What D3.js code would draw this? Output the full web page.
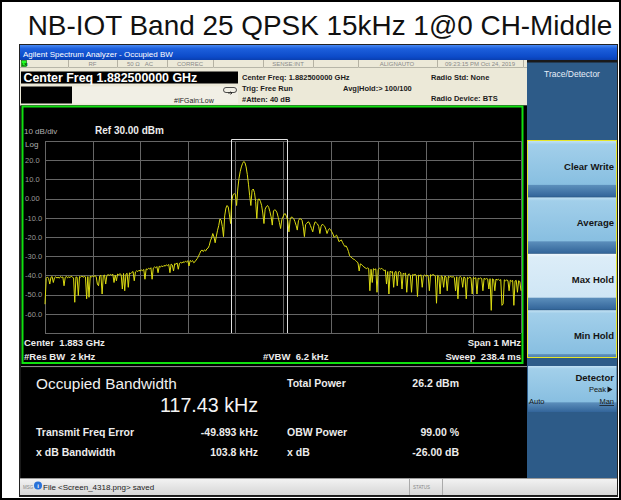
<!DOCTYPE html>
<html>
<head>
<meta charset="utf-8">
<script src="https://cdn.jsdelivr.net/npm/d3@7"></script>
<style>
  body { margin: 0; background: #fff; }
  svg { display: block; font-family: "Liberation Sans", Arial, sans-serif; }
  svg text { white-space: pre; }
</style>
</head>
<body>
<script>
'use strict';

// ---- Data ----
const chartTitle = 'NB-IOT Band 25 QPSK 15kHz 1@0 CH-Middle';
const windowTitle = 'Agilent Spectrum Analyzer - Occupied BW';
const centerFreqText = 'Center Freq 1.882500000 GHz';

const startKHz = -500;      // span 1 MHz around center
const stopKHz = 500;
const stepKHz = 2.5;        // 401 sweep points
const refLevel = 30;        // dBm
const dbPerDiv = 10;
const yTickLabels = ['20.0', '10.0', '0.00', '-10.0', '-20.0', '-30.0', '-40.0', '-50.0', '-60.0'];

// Max-hold trace, dBm per sweep point
const traceDbm = [
  -55, -41.5, -40.8, -41.6, -44.5, -41.0, -40.6, -43.7, -41.2, -40.7, -41.4, -40.9, -41.5, -40.6, -41.1, -40.8, -45.4, -41.0, -40.5, -41.3,
  -40.7, -41.2, -40.4, -40.9, -41.3, -54.0, -40.8, -41.0, -50.5, -40.6, -40.9, -40.3, -41.0, -40.5, -40.8, -52.2, -40.6, -51.4, -40.4, -40.9,
  -40.2, -40.7, -40.1, -40.6, -44.5, -45.4, -40.3, -39.9, -49.7, -40.2, -39.8, -44.5, -40.1, -39.6, -40.0, -39.5, -39.9, -39.4, -43.7, -39.8,
  -42.8, -39.3, -39.7, -39.1, -39.6, -47.1, -39.0, -48.0, -39.4, -38.9, -46.2, -38.7, -39.1, -38.4, -38.0, -42.8, -38.2, -37.6, -38.0, -37.3,
  -37.8, -37.1, -37.5, -36.9, -42.0, -36.6, -37.0, -36.3, -36.7, -36.0, -42.0, -36.2, -35.6, -36.1, -35.4, -38.6, -35.2, -35.7, -35.0, -35.5,
  -34.8, -35.2, -34.5, -34.9, -34.3, -38.6, -34.1, -34.6, -37.7, -33.9, -34.2, -33.5, -36.8, -33.7, -33.2, -33.6, -32.9, -33.3, -32.6, -33.0,
  -32.4, -35.1, -32.2, -32.8, -32.3, -33.4, -32.9, -32.0, -31.2, -30.0, -28.6, -27.2, -26.8, -27.6, -26.7, -27.3, -26.2, -25.8, -24.5, -22.0,
  -20.5, -18.2, -20.0, -23.0, -19.5, -16.5, -14.0, -10.6, -11.2, -14.5, -19.8, -9.0, -5.0, -3.6, -4.4, -8.5, -13.0, -1.0, 2.0, 2.6,
  2.2, -3.6, 5.0, 10.5, 14.0, 16.5, 18.3, 19.3, 18.8, 16.5, 12.6, 7.5, 1.5, -3.6, 4.3, 5.0, 3.2, -1.5, -10.4, -0.5,
  -0.2, -1.4, -3.5, -7.5, -13.0, -5.5, -4.2, -3.6, -4.6, -6.8, -9.5, -13.8, -6.5, -5.8, -6.2, -7.4, -9.8, -12.5, -15.6, -11.0,
  -9.6, -8.0, -7.9, -9.5, -11.5, -17.3, -11.0, -9.6, -9.8, -10.4, -12.0, -13.9, -16.4, -11.5, -10.4, -10.6, -11.3, -14.5, -19.8, -13.5,
  -12.9, -12.1, -12.4, -14.0, -15.6, -17.3, -14.0, -12.1, -12.6, -13.2, -14.5, -18.2, -14.5, -13.4, -13.8, -14.4, -16.0, -18.2, -16.5, -15.6,
  -16.2, -17.3, -18.5, -20.2, -19.5, -19.0, -20.5, -22.4, -22.0, -21.5, -22.8, -24.0, -25.0, -24.6, -25.8, -27.5, -29.8, -30.4, -30.8, -31.5,
  -31.7, -32.3, -32.9, -33.4, -37.7, -34.0, -34.3, -35.0, -35.6, -36.0, -36.5, -36.1, -36.4, -48.0, -36.8, -43.7, -36.5, -37.0, -36.6, -48.8,
  -36.9, -36.3, -36.7, -36.3, -37.0, -37.5, -37.2, -44.5, -38.0, -49.7, -37.8, -38.3, -38.0, -46.2, -38.4, -37.9, -45.4, -38.2, -38.0, -38.6,
  -47.1, -38.9, -39.3, -38.8, -48.8, -39.7, -39.2, -39.8, -48.8, -39.5, -39.9, -39.4, -40.0, -51.0, -39.8, -40.2, -39.7, -46.2, -40.3, -39.8,
  -40.4, -39.9, -40.2, -48.0, -39.6, -40.1, -39.5, -39.9, -40.3, -54.5, -40.0, -40.6, -49.7, -40.2, -40.7, -46.2, -40.3, -40.8, -48.0, -40.4,
  -40.9, -40.5, -41.0, -40.6, -41.1, -48.0, -40.7, -52.2, -41.0, -40.6, -41.2, -46.2, -40.8, -41.3, -52.2, -41.0, -41.5, -40.9, -41.4, -49.7,
  -41.1, -41.6, -41.2, -49.7, -41.4, -41.8, -41.3, -41.7, -48.0, -41.5, -42.0, -41.6, -41.9, -47.1, -41.7, -58.2, -41.8, -42.2, -48.0, -41.9,
  -42.4, -42.0, -42.6, -42.2, -55.6, -54.8, -42.3, -42.8, -42.4, -42.7, -48.0, -42.5, -43.0, -42.6, -55.6, -42.9, -42.6, -48.8, -42.8, -43.2,
  -48.0
];

const obwKHz = 117.43;
const freqErrorKHz = -49.893;

const statusFields = ['RF', '50 \u03A9   AC', 'CORREC', 'SENSE:INT', 'ALIGNAUTO', '09:23:15 PM Oct 24, 2019'];
const setupLeft = ['Center Freq: 1.882500000 GHz', 'Trig: Free Run', '#Atten: 40 dB'];
const setupRight = ['Radio Std: None', 'Avg|Hold:> 100/100', 'Radio Device: BTS'];
const footerLeft = ['Center  1.883 GHz', '#Res BW  2 kHz'];
const footerMid = '#VBW  6.2 kHz';
const footerRight = ['Span 1 MHz', 'Sweep  238.4 ms'];

const resultLabels = ['Transmit Freq Error', 'x dB Bandwidth'];
const resultValues = ['-49.893 kHz', '103.8 kHz'];
const powerLabels = ['Total Power', 'OBW Power', 'x dB'];
const powerValues = ['26.2 dBm', '99.00 %', '-26.00 dB'];

const softkeys = ['Clear Write', 'Average', 'Max Hold', 'Min Hold'];
const selectedKey = 'Max Hold';

// ---- Drawing ----
const W = 621, H = 500;
const svg = d3.select('body').append('svg').attr('width', W).attr('height', H);
const defs = svg.append('defs');

function gradient(id, stops) {
  const g = defs.append('linearGradient').attr('id', id)
    .attr('x1', 0).attr('y1', 0).attr('x2', 0).attr('y2', 1);
  stops.forEach(([o, c]) => g.append('stop').attr('offset', o).attr('stop-color', c));
}
gradient('titlebar', [[0, '#4a8af2'], [0.25, '#1c5fdc'], [0.8, '#0c4ac8'], [1, '#0a3fb0']]);
gradient('key', [[0, '#c2e1f3'], [0.06, '#a2cfea'], [0.78, '#88bfe1'], [0.8, '#5a8dba'], [1, '#33659a']]);
gradient('keySel', [[0, '#eef7fd'], [0.06, '#dcedf8'], [0.78, '#cfe6f5'], [0.8, '#5a8dba'], [1, '#33659a']]);
gradient('statusbar', [[0, '#f4f4f4'], [1, '#d6d6d6']]);

function rect(parent, x, y, w, h, fill) {
  return parent.append('rect').attr('x', x).attr('y', y).attr('width', w).attr('height', h).attr('fill', fill);
}

function label(parent, x, y, str, size, opts = {}) {
  return parent.append('text')
    .attr('x', x).attr('y', y)
    .attr('font-size', size)
    .attr('font-weight', opts.bold ? 'bold' : null)
    .attr('fill', opts.fill || '#000')
    .attr('text-anchor', opts.anchor || 'start')
    .text(str);
}

// Scale font so the text spans the given width (screenshot fonts differ a bit)
function fitWidth(sel, width) {
  const len = sel.node().getComputedTextLength();
  const size = parseFloat(sel.attr('font-size'));
  sel.attr('font-size', (size * width / len).toFixed(2));
  return sel;
}

// Page frame and slide title
svg.append('rect').attr('x', 1).attr('y', 1).attr('width', W - 2).attr('height', H - 2)
  .attr('fill', '#fff').attr('stroke', '#000').attr('stroke-width', 2);
fitWidth(label(svg, 320, 35, chartTitle, 26, { anchor: 'middle', fill: '#111' }), 585);

// Screenshot body
const scr = svg.append('g');
rect(scr, 19, 44, 599, 453, '#1a1a1a');
rect(scr, 20, 45, 597, 15, 'url(#titlebar)');
label(scr, 23, 56.5, windowTitle, 8, { fill: '#fff' });

// Status row
rect(scr, 20, 60, 507, 7.5, '#ece9d8');
rect(scr, 21.5, 60.5, 5, 6, '#2f2').attr('stroke', '#060').attr('stroke-width', 0.6);
label(scr, 22, 66, 'LXI', 3.6, { fill: '#030', bold: true });
[68, 117, 167, 213, 263, 313, 358, 437, 523].forEach(x => {
  scr.append('line').attr('x1', x + 0.5).attr('x2', x + 0.5).attr('y1', 60).attr('y2', 67.5)
    .attr('stroke', '#b5b2a3');
});
[92.5, 140, 190, 288, 397, 480].forEach((x, i) => {
  label(scr, x, 65.8, statusFields[i], 6, { anchor: 'middle', fill: '#8a8a8a' });
});

// Setup info area
rect(scr, 20, 67.5, 507, 38, '#ece9d8');
rect(scr, 21, 71.5, 217, 12, '#000');
fitWidth(label(scr, 23.5, 81.5, centerFreqText, 11, { bold: true, fill: '#fff' }), 174);
rect(scr, 21, 86.5, 51, 17, '#000');
rect(scr, 72, 86.5, 166, 17, '#f1efe5');
label(scr, 174, 102.5, '#IFGain:Low', 7, { fill: '#222' });
scr.append('rect').attr('x', 223.5).attr('y', 87.5).attr('width', 13).attr('height', 5).attr('rx', 2.5)
  .attr('fill', 'none').attr('stroke', '#222').attr('stroke-width', 0.8);
scr.append('path').attr('d', 'M228,93 L232,93 L230.5,91.5 M232,93 L230.5,94.5').attr('stroke', '#222')
  .attr('stroke-width', 0.8).attr('fill', 'none');
setupLeft.forEach((t, i) => label(scr, 242, 79.5 + i * 11, t, 7.5, { bold: true, fill: '#1c1c1c' }));
label(scr, 431, 79.5, setupRight[0], 7.5, { bold: true, fill: '#1c1c1c' });
label(scr, 343, 90.5, setupRight[1], 7.5, { bold: true, fill: '#1c1c1c' });
label(scr, 431, 101, setupRight[2], 7.5, { bold: true, fill: '#1c1c1c' });

// ---- Spectrum display ----
rect(scr, 21, 105.5, 506, 261, '#000');
scr.append('rect').attr('x', 22.5).attr('y', 106.5).attr('width', 500).attr('height', 256.5)
  .attr('fill', 'none').attr('stroke', '#10e010').attr('stroke-width', 2);

const x = d3.scaleLinear().domain([startKHz, stopKHz]).range([45, 521]);
const y = d3.scaleLinear().domain([refLevel - 10 * dbPerDiv, refLevel]).range([333, 141]);
const px = v => Math.round(v) + 0.5;

const grid = scr.append('g').attr('stroke', '#666').attr('stroke-width', 1);
x.ticks(10).forEach(f => {
  grid.append('line').attr('x1', px(x(f))).attr('x2', px(x(f))).attr('y1', y.range()[1]).attr('y2', y.range()[0]);
});
d3.range(refLevel - 10 * dbPerDiv, refLevel + 1, dbPerDiv).forEach(v => {
  grid.append('line').attr('x1', x.range()[0]).attr('x2', x.range()[1]).attr('y1', px(y(v))).attr('y2', px(y(v)));
});

label(scr, 24, 133.5, '10 dB/div', 8, { fill: '#b0b0b0' });
label(scr, 95, 133.5, 'Ref 30.00 dBm', 10, { bold: true, fill: '#ececec' });
label(scr, 25, 146.5, 'Log', 8, { fill: '#b0b0b0' });
yTickLabels.forEach((t, i) => {
  label(scr, 25, y(refLevel - (i + 1) * dbPerDiv) + 2.8, t, 7.5, { fill: '#9a9a9a' });
});

// OBW markers
const obwLo = x(freqErrorKHz - obwKHz / 2);
const obwHi = x(freqErrorKHz + obwKHz / 2);
scr.append('path')
  .attr('d', `M${px(obwLo)},${y.range()[0]} V${139.5} H${px(obwHi)} V${y.range()[0]}`)
  .attr('fill', 'none').attr('stroke', '#e2e2e2').attr('stroke-width', 1);

// Trace
const line = d3.line()
  .x((d, i) => x(startKHz + i * stepKHz))
  .y(d => y(d));
scr.append('path')
  .datum(traceDbm)
  .attr('d', line)
  .attr('fill', 'none')
  .attr('stroke', '#dcdc12')
  .attr('stroke-width', 1)
  .attr('stroke-linejoin', 'round');

footerLeft.forEach((t, i) => label(scr, 24, 346 + i * 13.5, t, 9.5, { bold: true, fill: '#ececec' }));
label(scr, 263, 359.5, footerMid, 9.5, { bold: true, fill: '#ececec' });
footerRight.forEach((t, i) => label(scr, 521, 346 + i * 13.5, t, 9.5, { bold: true, fill: '#ececec', anchor: 'end' }));

// ---- Results panel ----
scr.append('line').attr('x1', 21).attr('x2', 527).attr('y1', 366.5).attr('y2', 366.5).attr('stroke', '#8a8a8a');
rect(scr, 21, 367.5, 506, 110.5, '#000');
fitWidth(label(scr, 36, 389, 'Occupied Bandwidth', 14, { fill: '#f0f0f0' }), 141);
fitWidth(label(scr, 258, 412, `${obwKHz.toFixed(2)} kHz`, 17, { fill: '#f4f4f4', anchor: 'end' }), 98);
resultLabels.forEach((t, i) => {
  label(scr, 36, 435.5 + i * 20.5, t, 10.5, { bold: true, fill: '#ececec' });
  label(scr, 258, 435.5 + i * 20.5, resultValues[i], 10.5, { bold: true, fill: '#ececec', anchor: 'end' });
});
powerLabels.forEach((t, i) => {
  const yy = i === 0 ? 387 : 435.5 + (i - 1) * 20.5;
  label(scr, 287, yy, t, 10.5, { bold: true, fill: '#ececec' });
  label(scr, 459, yy, powerValues[i], 10.5, { bold: true, fill: '#ececec', anchor: 'end' });
});

// ---- Softkey panel ----
rect(scr, 527, 62.5, 90, 415.5, '#2d5b88');
label(scr, 572, 77, 'Trace/Detector', 8.5, { fill: '#e6eef8', anchor: 'middle' });

const keys = scr.append('g');
keys.append('clipPath').attr('id', 'keyclip')
  .append('rect').attr('x', 527.5).attr('y', 140.5).attr('width', 89).attr('height', 217);
const keyTop = 141, keyH = 56.4;
softkeys.forEach((k, i) => {
  rect(keys, 528, keyTop + i * keyH, 88.5, keyH - 0.8, k === selectedKey ? 'url(#keySel)' : 'url(#key)')
    .attr('clip-path', 'url(#keyclip)');
  label(keys, 614, keyTop + i * keyH + 29, k, 9.5, { bold: true, fill: '#141414', anchor: 'end' });
});
keys.append('rect').attr('x', 527.5).attr('y', 140.5).attr('width', 89).attr('height', 217)
  .attr('fill', 'none').attr('stroke', '#e6e62a').attr('stroke-width', 1);

rect(keys, 528, 366, 88.5, 46, 'url(#key)');
label(keys, 614, 380.5, 'Detector', 9.5, { bold: true, fill: '#141414', anchor: 'end' });
label(keys, 606, 392, 'Peak', 7.5, { fill: '#141414', anchor: 'end' });
keys.append('path').attr('d', 'M607.5,386.5 L612.5,389.5 L607.5,392.5 Z').attr('fill', '#141414');
label(keys, 529, 404, 'Auto', 7.5, { fill: '#141414' });
label(keys, 614, 404, 'Man', 7.5, { fill: '#141414', anchor: 'end' }).attr('text-decoration', 'underline');

// ---- Status bar ----
rect(scr, 20, 478, 597, 17, 'url(#statusbar)');
scr.append('line').attr('x1', 20).attr('x2', 617).attr('y1', 478.5).attr('y2', 478.5).attr('stroke', '#9a9a9a');
label(scr, 23, 489, 'MSG', 4.5, { fill: '#888' });
scr.append('circle').attr('cx', 38).attr('cy', 485.5).attr('r', 4).attr('fill', '#2a72d8');
label(scr, 38, 488, 'i', 6, { bold: true, fill: '#fff', anchor: 'middle' });
label(scr, 43, 490, 'File <Screen_4318.png> saved', 8, { fill: '#222' });
[409, 442].forEach(xx => scr.append('line').attr('x1', xx + 0.5).attr('x2', xx + 0.5)
  .attr('y1', 479).attr('y2', 495).attr('stroke', '#aaa'));
label(scr, 413, 489, 'STATUS', 4.5, { fill: '#888' });

scr.append('rect').attr('x', 19.5).attr('y', 44.5).attr('width', 598).attr('height', 452)
  .attr('fill', 'none').attr('stroke', '#222').attr('stroke-width', 1);
</script>
</body>
</html>
